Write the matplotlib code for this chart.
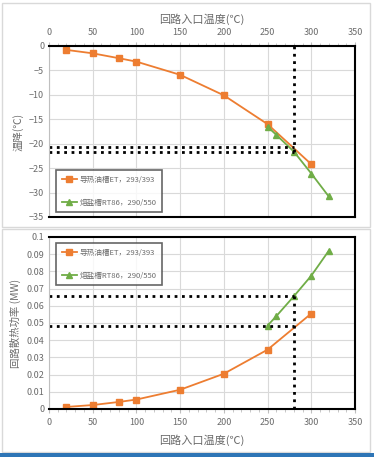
import numpy as np
import matplotlib.pyplot as plt
from matplotlib.patches import Rectangle
from matplotlib.ticker import MultipleLocator

plt.rcParams['font.family'] = ['Noto Sans CJK SC', 'DejaVu Sans']

# 数据
x_oil = [20, 50, 80, 100, 150, 200, 250, 300]
drop_oil = [-0.8, -1.5, -2.5, -3.2, -5.9, -10.1, -16.0, -24.2]
power_oil = [0.0012, 0.0023, 0.0041, 0.0055, 0.0112, 0.0205, 0.0345, 0.0555]

x_salt = [250, 260, 280, 300, 320]
drop_salt = [-16.5, -18.2, -21.6, -26.1, -30.8]
power_salt = [0.0485, 0.054, 0.0655, 0.0775, 0.092]

x_mark = 280
drop_marks = [-20.7, -21.6]
power_marks = [0.048, 0.0655]

label_oil = '导热油槽ET，293/393'
label_salt = '熔盐槽RT86，290/550'
xlabel = '回路入口温度(℃)'

c_oil = '#ed7d31'
c_salt = '#70ad47'
c_txt = '#6b6b6b'

W, H = 374, 457
fig = plt.figure(figsize=(W / 100, H / 100), dpi=100)

def fx(px):
    return px / W

def fy(py):
    return 1 - py / H

# 外框
fig.patches.append(Rectangle((fx(2), fy(227)), fx(368), 224 / H, transform=fig.transFigure,
                             fill=False, ec='#d9d9d9', lw=1))
fig.patches.append(Rectangle((fx(2), fy(452)), fx(368), 223 / H, transform=fig.transFigure,
                             fill=False, ec='#d9d9d9', lw=1))
fig.patches.append(Rectangle((0, 0), 1, 4 / H, transform=fig.transFigure,
                             fc='#2e75b6', ec='none'))


def style(ax):
    ax.set_xlim(0, 350)
    ax.xaxis.set_major_locator(MultipleLocator(50))
    ax.xaxis.set_minor_locator(MultipleLocator(10))
    ax.grid(True, which='major', color='#d9d9d9', lw=0.8)
    ax.set_axisbelow(True)
    for s in ax.spines.values():
        s.set_color('black')
        s.set_linewidth(1.5)
    ax.spines['left'].set_color('#bfbfbf')
    ax.spines['left'].set_linewidth(0.8)
    ax.tick_params(labelsize=6.5, colors=c_txt, length=3, color='#bfbfbf')
    ax.tick_params(which='minor', length=2, color='#bfbfbf')
    ax.tick_params(axis='y', length=0)


def legend(ax, **kw):
    leg = ax.legend(fontsize=5.5, frameon=True, fancybox=False, edgecolor='#404040',
                    labelspacing=2.0, handlelength=2.0, handletextpad=0.3,
                    borderpad=0.7, labelcolor=c_txt, **kw)
    leg.get_frame().set_linewidth(1.2)


# 上图：温降
ax1 = fig.add_axes([fx(49), fy(217), fx(306), 171 / H])
style(ax1)
ax1.set_ylim(-35, 0)
ax1.yaxis.set_major_locator(MultipleLocator(5))
ax1.xaxis.tick_top()
ax1.xaxis.set_label_position('top')
ax1.set_xlabel(xlabel, fontsize=8, color=c_txt, labelpad=4)
ax1.set_ylabel('温降(℃)', fontsize=7.5, color=c_txt, labelpad=4)
ax1.plot(x_oil, drop_oil, color=c_oil, marker='s', ms=4.5, lw=1.3, label=label_oil)
ax1.plot(x_salt, drop_salt, color=c_salt, marker='^', ms=4.5, lw=1.3, label=label_salt)
ax1.plot([x_mark, x_mark], [0, min(drop_marks)], color='black', ls=':', lw=2)
for v in drop_marks:
    ax1.plot([0, x_mark], [v, v], color='black', ls=':', lw=2)
legend(ax1, loc='lower left', bbox_to_anchor=(0.012, 0.005))

# 下图：散热功率
ax2 = fig.add_axes([fx(49), fy(409), fx(306), 172 / H])
style(ax2)
ax2.set_ylim(0, 0.1)
ax2.yaxis.set_major_locator(MultipleLocator(0.01))
ax2.yaxis.set_major_formatter(plt.FuncFormatter(lambda v, p: '0' if abs(v) < 1e-9 else '%g' % round(v, 2)))
ax2.set_xlabel(xlabel, fontsize=8, color=c_txt, labelpad=5)
ax2.set_ylabel('回路散热功率 (MW)', fontsize=7.5, color=c_txt, labelpad=4)
ax2.plot(x_oil, power_oil, color=c_oil, marker='s', ms=4.5, lw=1.3, label=label_oil)
ax2.plot(x_salt, power_salt, color=c_salt, marker='^', ms=4.5, lw=1.3, label=label_salt)
ax2.plot([x_mark, x_mark], [0, max(power_marks)], color='black', ls=':', lw=2)
for v in power_marks:
    ax2.plot([0, x_mark], [v, v], color='black', ls=':', lw=2)
legend(ax2, loc='upper left', bbox_to_anchor=(0.012, 0.985))

fig.savefig('out.png', dpi=100)
